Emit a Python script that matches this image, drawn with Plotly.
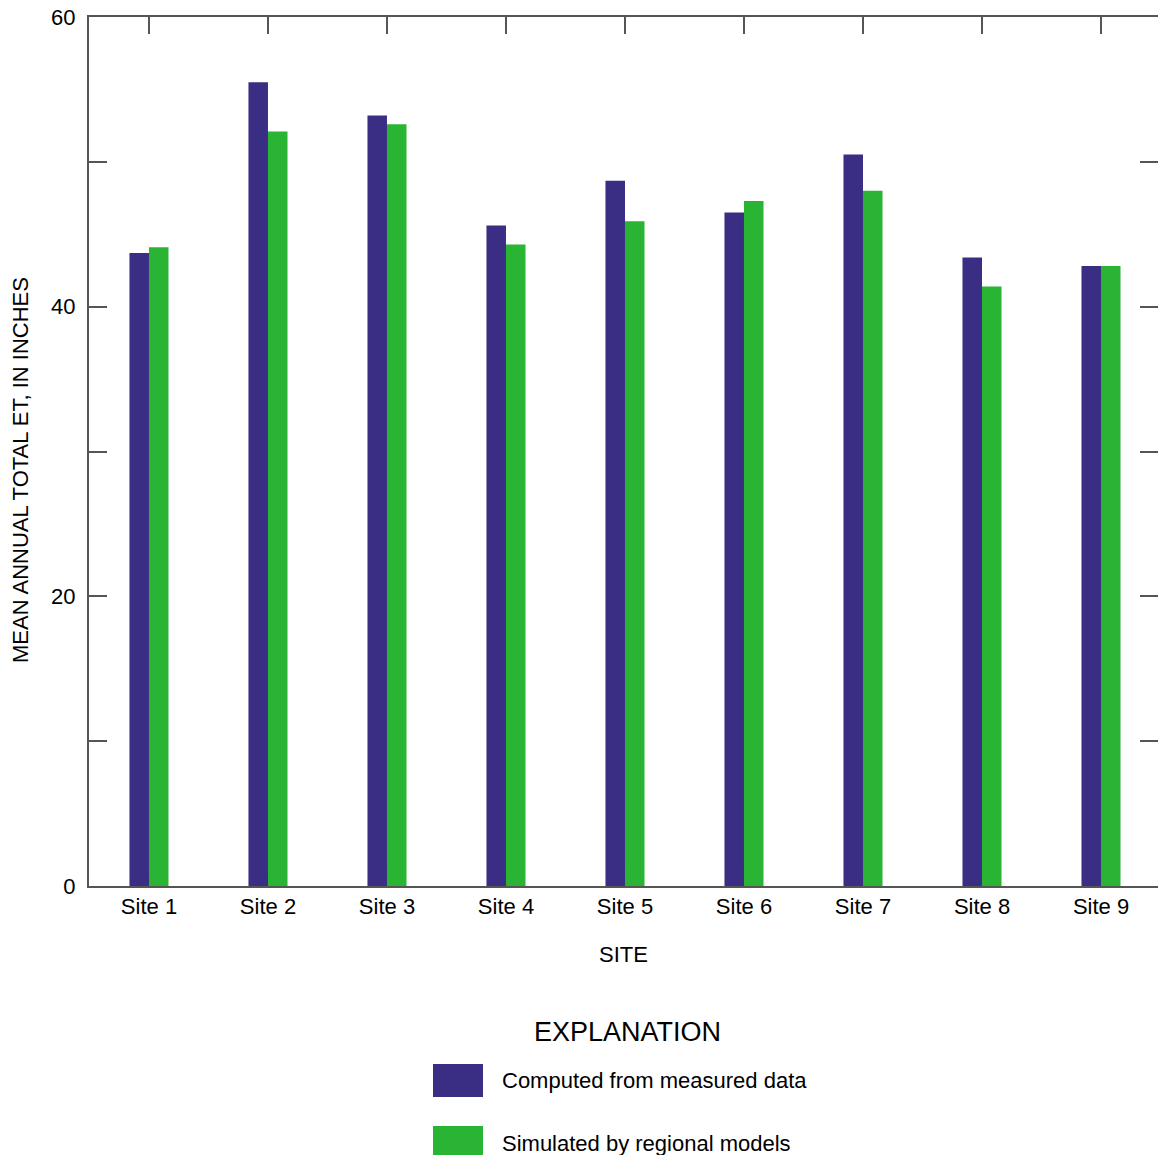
import plotly.graph_objects as go

sites = ["Site 1", "Site 2", "Site 3", "Site 4", "Site 5", "Site 6", "Site 7", "Site 8", "Site 9"]
measured = [43.7, 55.5, 53.2, 45.6, 48.7, 46.5, 50.5, 43.4, 42.8]
simulated = [44.1, 52.1, 52.6, 44.3, 45.9, 47.3, 48.0, 41.4, 42.8]
ytick_vals = [0, 10, 20, 30, 40, 50, 60]
ytick_text = ["0", "", "20", "", "40", "", "60"]

BLUE = "#3A2D84"
GREEN = "#29B433"
AX = "#555555"
FONT = "Liberation Sans, Arial, Helvetica, sans-serif"

W, H = 1158, 1155
ML, MT, MR, MB = 89, 17, 0, 1155 - 886
PH = H - MT - MB
PW = W - ML - MR


def py(p):
    return (886 - p) / PH


def px(p):
    return (p - 89) / PW


fig = go.Figure()
fig.add_trace(go.Bar(x=sites, y=measured, name="Computed from measured data",
                     marker=dict(color=BLUE, line=dict(width=0)), showlegend=False))
fig.add_trace(go.Bar(x=sites, y=simulated, name="Simulated by regional models",
                     marker=dict(color=GREEN, line=dict(width=0)), showlegend=False))

fig.update_layout(
    width=W, height=H,
    margin=dict(l=ML, r=MR, t=MT, b=MB, autoexpand=False),
    paper_bgcolor="white", plot_bgcolor="white",
    barmode="group", bargap=0.672, bargroupgap=0,
    font=dict(family=FONT, size=22, color="black"),
    xaxis=dict(range=[-0.504, 8.479], showline=True, linecolor=AX, linewidth=2, mirror="ticks",
               ticks="inside", ticklen=17, tickwidth=2, tickcolor=AX, layer="below traces",
               showgrid=False, tickfont=dict(size=22), ticklabelstandoff=0,
               title=dict(text="SITE", font=dict(size=22), standoff=28)),
    yaxis=dict(range=[0, 60], showline=True, linecolor=AX, linewidth=2, mirror="ticks",
               ticks="inside", ticklen=18, tickwidth=1.5, tickcolor=AX,
               tickvals=ytick_vals, ticktext=ytick_text, showgrid=False, zeroline=False,
               tickfont=dict(size=22), ticklabelstandoff=7, ticklabeloverflow="allow"),
)

# y-axis title
fig.add_annotation(text="MEAN ANNUAL TOTAL ET, IN INCHES", textangle=-90,
                   xref="paper", yref="paper", x=px(20), y=py(470),
                   showarrow=False, font=dict(size=22), xanchor="center", yanchor="middle")

# Explanation block
fig.add_annotation(text="EXPLANATION", xref="paper", yref="paper", x=px(627), y=py(1032),
                   showarrow=False, font=dict(size=27), xanchor="center", yanchor="middle")
items = [("Computed from measured data", BLUE, 1064, 1097, 1080),
         ("Simulated by regional models", GREEN, 1126, 1159, 1143)]
for label, col, y0, y1, yc in items:
    fig.add_shape(type="rect", xref="paper", yref="paper", x0=px(433), x1=px(483),
                  y0=py(y1), y1=py(y0), fillcolor=col, line=dict(width=0))
    fig.add_annotation(text=label, xref="paper", yref="paper", x=px(500), y=py(yc),
                       showarrow=False, font=dict(size=22), xanchor="left", yanchor="middle")

fig.write_html("out.html", config={"displayModeBar": False},
               post_script="document.body.style.margin='0';document.body.style.overflow='hidden';")
